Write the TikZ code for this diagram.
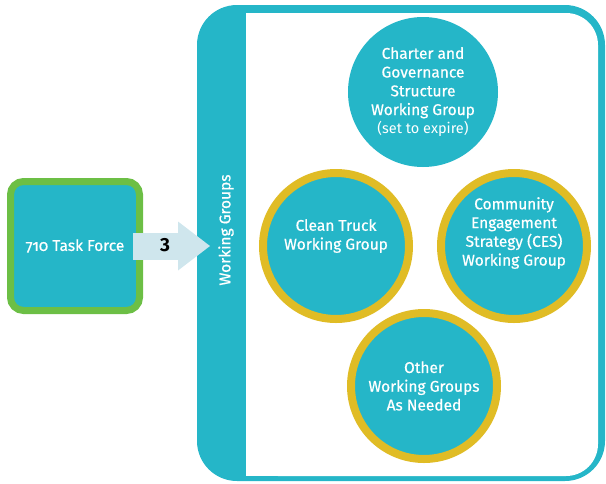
\documentclass[tikz,border=0pt]{standalone}
\usepackage{fontspec}
\setmainfont{Fira Sans}[Numbers=OldStyle, UprightFeatures={FakeBold=0.6}]
\newfontfamily\plainfont{Fira Sans}
\usepackage{tikz}
\usetikzlibrary{arrows.meta, positioning}
\definecolor{wgteal}{RGB}{37,182,200}
\definecolor{wggold}{RGB}{224,188,37}
\definecolor{tfgreen}{RGB}{108,191,69}
\definecolor{arrowblue}{RGB}{207,230,237}

\begin{document}
\begin{tikzpicture}[x=1pt, y=-1pt, every node/.style={text=white, align=center, font=\fontsize{15.5}{18.75}\selectfont},
    goldring/.style={circle, draw=wggold, line width=8pt, fill=wgteal, minimum size=146pt, inner sep=0pt}]
            \useasboundingbox (0,0) rectangle (606,483);
            % frame of the working groups
            \fill[wgteal, rounded corners=40pt] (197,5) rectangle (605,481);
            \fill[white, rounded corners=32pt] (246,13) rectangle (598,476);
            \fill[white] (246,13) rectangle (300,476);
            \node[rotate=90] at (226,230) (wg) {Working Groups};

            \node[rectangle, draw=tfgreen, line width=7pt, fill=wgteal, rounded corners=13pt, minimum size=129pt] at (75,246) (tf) {710 Task Force};
            \coordinate (tip) at (210,246);
            \draw [-{Triangle[length=32pt, width=49pt, line width=0pt]}, arrowblue, line width=27pt] ([xshift=-10pt]tf.east) -- (tip);
            \node[text=black, font=\fontsize{19}{20}\selectfont\plainfont\bfseries] at (165,245) (three) {3};

            \node[circle, fill=wgteal, minimum size=150pt, inner sep=0pt] at (423,92) (cgs) {Charter and\\Governance\\Structure\\Working Group\\{\plainfont\fontsize{14.5}{18.75}\selectfont (set to expire)}};
            \node[goldring] at (336,246) (ct) {};
            \node at ([yshift=10pt]ct.center) (cttext) {Clean Truck\\Working Group};
            \node[goldring] at (514,246) (ces) {};
            \node at ([yshift=13pt]ces.center) (cestext) {Community\\Engagement\\Strategy (CES)\\Working Group};
            \node[goldring] at (424,386) (other) {Other\\Working Groups\\As Needed};
        \end{tikzpicture}
\end{document}
